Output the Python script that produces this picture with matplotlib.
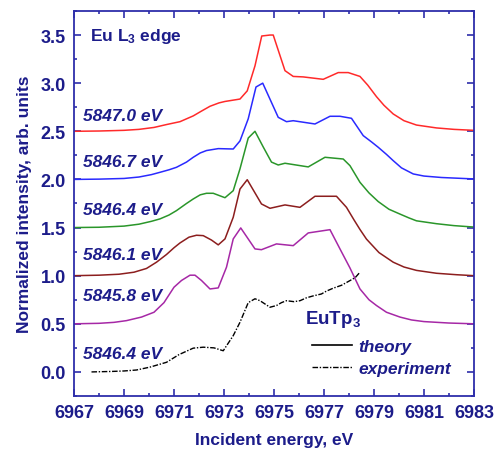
"""
Eu L3-edge spectra of EuTp3: calculated curves for several emission
energies, stacked with a 0.5 offset, plus the measured spectrum.
"""

import matplotlib
matplotlib.use("Agg")

import matplotlib.pyplot as plt
from matplotlib.lines import Line2D
from matplotlib.ticker import MultipleLocator, FormatStrFormatter

plt.rcParams["font.family"] = ["Liberation Sans", "DejaVu Sans"]
plt.rcParams["mathtext.default"] = "regular"

# theory, emission energy 5847.0 eV (offset 2.5)
e_5847_0 = [6967, 6968, 6969, 6969.6, 6970.2, 6970.7, 6971.24, 6971.77, 6972.1,
            6972.44, 6972.8, 6973.04, 6973.64, 6973.93, 6974.24, 6974.51, 6974.84,
            6974.97, 6975.44, 6975.77, 6976.17, 6976.97, 6977.57, 6977.97, 6978.44,
            6978.75, 6979.1, 6979.4, 6979.77, 6980.2, 6980.7, 6981.5, 6982.2, 6983]
i_5847_0 = [2.50, 2.503, 2.51, 2.52, 2.54, 2.57, 2.60, 2.66, 2.71, 2.76, 2.795, 2.81,
            2.835, 2.92, 3.18, 3.49, 3.50, 3.50, 3.13, 3.07, 3.065, 3.04, 3.11, 3.11,
            3.07, 2.98, 2.86, 2.77, 2.68, 2.61, 2.565, 2.535, 2.52, 2.51]

# theory, 5846.7 eV (offset 2.0)
e_5846_7 = [6967, 6968, 6969, 6969.6, 6970.1, 6970.44, 6970.8, 6971.1, 6971.5,
            6971.77, 6972.05, 6972.3, 6972.77, 6973.37, 6973.64, 6973.97, 6974.28,
            6974.55, 6975.17, 6975.5, 6975.77, 6976.64, 6977.24, 6977.64, 6978.1,
            6978.57, 6978.9, 6979.17, 6979.5, 6979.77, 6980.1, 6980.57, 6981,
            6981.7, 6983]
i_5846_7 = [2.0, 2.003, 2.01, 2.025, 2.05, 2.074, 2.10, 2.126, 2.18, 2.23, 2.275,
            2.30, 2.32, 2.316, 2.40, 2.63, 2.96, 3.00, 2.645, 2.60, 2.61, 2.576,
            2.656, 2.656, 2.635, 2.455, 2.39, 2.334, 2.26, 2.195, 2.12, 2.057, 2.035,
            2.02, 2.005]

# theory, 5846.4 eV (offset 1.5)
e_5846_4 = [6967, 6968, 6969, 6969.6, 6970.1, 6970.44, 6970.8, 6971.1, 6971.5,
            6971.77, 6972.05, 6972.3, 6972.57, 6973.04, 6973.37, 6973.64, 6973.97,
            6974.24, 6974.57, 6974.9, 6975.17, 6975.44, 6976.37, 6977.04, 6977.77,
            6978.04, 6978.44, 6978.8, 6979.17, 6979.6, 6980.04, 6980.4, 6980.7,
            6981.5, 6982.2, 6983]
i_5846_4 = [1.5, 1.503, 1.515, 1.535, 1.565, 1.59, 1.63, 1.676, 1.75, 1.797, 1.84,
            1.856, 1.856, 1.81, 1.883, 2.11, 2.43, 2.50, 2.337, 2.18, 2.15, 2.168,
            2.13, 2.23, 2.212, 2.143, 1.97, 1.86, 1.77, 1.69, 1.64, 1.60, 1.57, 1.54,
            1.52, 1.505]

# theory, 5846.1 eV (offset 1.0)
e_5846_1 = [6967, 6968, 6968.8, 6969.4, 6969.9, 6970.3, 6970.7, 6971.0, 6971.24,
            6971.6, 6971.9, 6972.17, 6972.5, 6972.77, 6973.04, 6973.37, 6973.64,
            6973.93, 6974.5, 6974.84, 6975.44, 6976.04, 6976.64, 6977.5, 6977.9,
            6978.2, 6978.44, 6978.7, 6979.2, 6979.77, 6980.2, 6980.7, 6981.5,
            6982.3, 6983]
i_5846_1 = [1.0, 1.005, 1.015, 1.036, 1.075, 1.14, 1.22, 1.29, 1.34, 1.40, 1.42,
            1.416, 1.37, 1.32, 1.382, 1.607, 1.90, 1.997, 1.745, 1.70, 1.735, 1.71,
            1.825, 1.825, 1.71, 1.58, 1.48, 1.38, 1.24, 1.14, 1.09, 1.055, 1.025,
            1.01, 1.0]

# theory, 5845.8 eV (offset 0.5)
e_5845_8 = [6967, 6968, 6968.6, 6969.1, 6969.7, 6970.2, 6970.6, 6971.0, 6971.3,
            6971.64, 6971.84, 6972.1, 6972.44, 6972.77, 6973.1, 6973.37, 6973.67,
            6974.24, 6974.5, 6975.1, 6975.77, 6976.37, 6977.24, 6977.64, 6978.04,
            6978.44, 6978.8, 6979.1, 6979.5, 6980.04, 6980.5, 6981, 6982, 6983]
i_5845_8 = [0.5, 0.505, 0.515, 0.533, 0.57, 0.62, 0.72, 0.88, 0.95, 1.005, 1.005,
            0.95, 0.862, 0.873, 1.088, 1.382, 1.496, 1.278, 1.27, 1.33, 1.312, 1.444,
            1.478, 1.278, 1.08, 0.862, 0.75, 0.69, 0.62, 0.57, 0.54, 0.523, 0.508,
            0.5]

# experiment, 5846.4 eV (no offset)
e_exp = [6967.7, 6968.5, 6969.0, 6969.5, 6970.04, 6970.7, 6971.2, 6971.77, 6972.17,
         6972.6, 6972.97, 6973.37, 6973.64, 6973.97, 6974.24, 6974.44, 6974.84,
         6975.1, 6975.3, 6975.5, 6975.8, 6976.04, 6976.3, 6976.57, 6976.9, 6977.1,
         6977.37, 6977.7, 6978.04, 6978.25, 6978.44]
i_exp = [0.0, 0.005, 0.01, 0.02, 0.05, 0.1, 0.18, 0.247, 0.257, 0.25, 0.22, 0.377,
         0.516, 0.72, 0.76, 0.74, 0.672, 0.69, 0.72, 0.74, 0.73, 0.74, 0.77, 0.79,
         0.81, 0.84, 0.87, 0.9, 0.949, 0.98, 1.036]

theory = [
    (e_5847_0, i_5847_0, "#ff2a2a"),
    (e_5846_7, i_5846_7, "#2a2aff"),
    (e_5846_4, i_5846_4, "#2a962a"),
    (e_5846_1, i_5846_1, "#8c1e1e"),
    (e_5845_8, i_5845_8, "#a628a6"),
]

curve_labels = ["5847.0 eV", "5846.7 eV", "5846.4 eV", "5846.1 eV", "5845.8 eV", "5846.4 eV"]
label_y = [2.66, 2.19, 1.69, 1.22, 0.79, 0.19]

navy = "#1c1c8a"
spine_blue = "#2e2eaa"
dash_dot = (4, 1.2, 1, 1.2)

fig = plt.figure(figsize=(4.95, 4.52), dpi=100)
ax = fig.add_axes([0.1495, 0.1217, 0.808, 0.8518])

for e, i, c in theory:
    ax.plot(e, i, color=c, lw=1.1)

ax.plot(e_exp, i_exp, color="black", lw=1.0, dashes=dash_dot)

for txt, y in zip(curve_labels, label_y):
    ax.text(6967.36, y, txt, fontsize=12.5, fontweight="bold", fontstyle="italic",
            color=navy, va="center", ha="left")

ax.text(6967.65, 3.5, "Eu L$_3$ edge", fontsize=12.5, fontweight="bold", color=navy,
        va="center", ha="left")
ax.text(6976.24, 0.56, "EuTp$_3$", fontsize=13.5, fontweight="bold", color=navy,
        va="center", ha="left")

handles = [Line2D([], [], color="black", lw=1.2),
           Line2D([], [], color="black", lw=1.0, dashes=dash_dot)]
leg = ax.legend(handles, ["theory", "experiment"], loc="center left",
                bbox_to_anchor=(0.595, 0.10), frameon=False, borderpad=0,
                borderaxespad=0, handlelength=2.3, handletextpad=0.35,
                labelspacing=0.4,
                prop={"weight": "bold", "style": "italic", "size": 12.5})
for t in leg.get_texts():
    t.set_color(navy)

ax.set_xlim(6967, 6983)
ax.set_ylim(-0.25, 3.75)
ax.set_xticks(range(6967, 6984, 2))
ax.xaxis.set_minor_locator(MultipleLocator(1))
ax.yaxis.set_major_locator(MultipleLocator(0.5))
ax.yaxis.set_minor_locator(MultipleLocator(0.25))
ax.yaxis.set_major_formatter(FormatStrFormatter("%.1f"))

ax.tick_params(which="both", direction="in", top=True, right=True, color=spine_blue,
               width=1.2)
ax.tick_params(which="major", length=5, labelsize=13, labelcolor=navy, pad=6)
ax.tick_params(which="minor", length=2.5)
for lab in ax.get_xticklabels() + ax.get_yticklabels():
    lab.set_fontweight("bold")

for s in ax.spines.values():
    s.set_color(spine_blue)
    s.set_linewidth(1.3)

ax.set_xlabel("Incident energy, eV", fontsize=12.5, fontweight="bold", color=navy,
              labelpad=8)
ax.set_ylabel("Normalized intensity, arb. units", fontsize=12.5, fontweight="bold",
              color=navy, labelpad=6)

fig.savefig("out.png", dpi=100)
